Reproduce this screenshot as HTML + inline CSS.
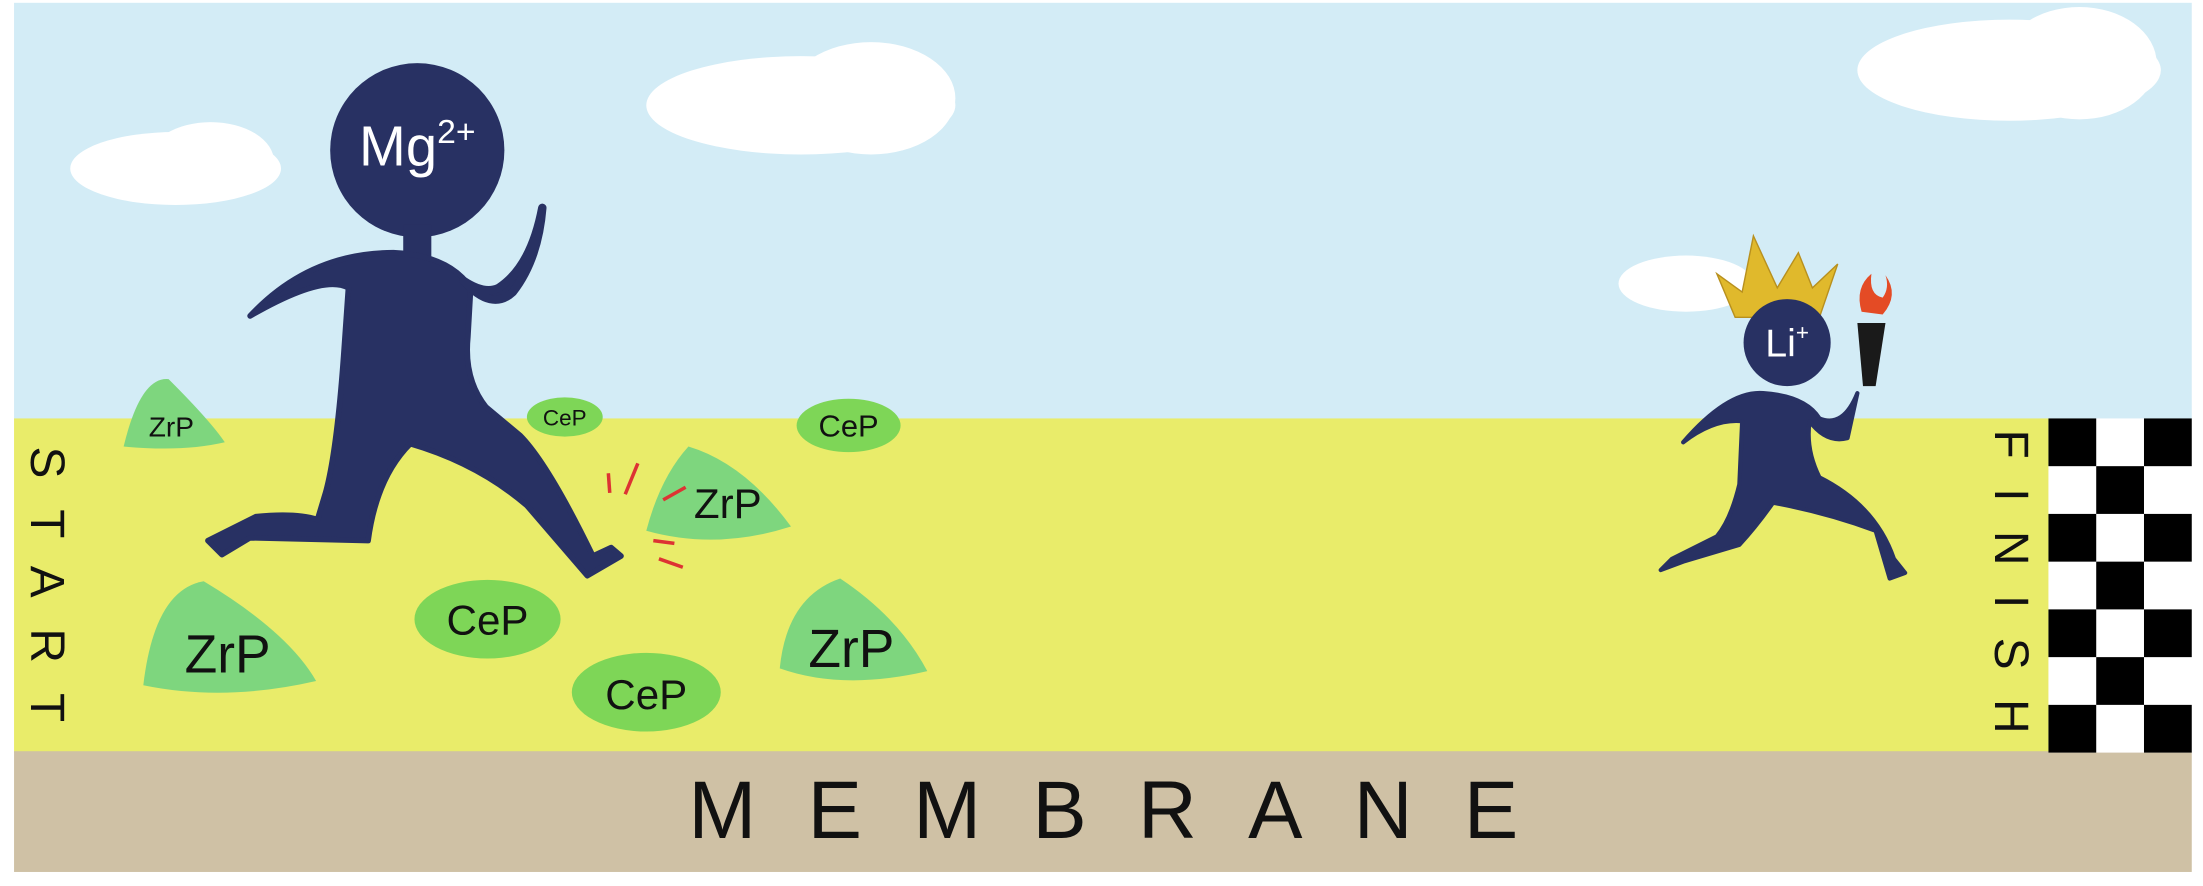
<!DOCTYPE html>
<html><head><meta charset="utf-8"><style>
html,body{margin:0;padding:0;background:#fff;}
svg{display:block;}
text{font-family:"Liberation Sans",sans-serif;}
</style></head><body>
<svg width="2203" height="886" viewBox="0 0 1568 631" preserveAspectRatio="none" xmlns="http://www.w3.org/2000/svg">
<rect width="1568" height="631" fill="#fff"/>
<rect x="10" y="2" width="1550" height="297" fill="#d3ecf6"/>
<rect x="10" y="298" width="1448" height="238" fill="#e9ec6a"/>
<rect x="10" y="535" width="1550" height="86" fill="#cfc1a5"/>
<text x="490" y="597" font-size="58" letter-spacing="36.5" fill="#111">MEMBRANE</text>
<!-- checkered -->
<rect x="1458" y="298" width="102" height="238" fill="#fff"/>
<g fill="#000">
<rect x="1458" y="298" width="34" height="34"/><rect x="1526" y="298" width="34" height="34"/>
<rect x="1492" y="332" width="34" height="34"/>
<rect x="1458" y="366" width="34" height="34"/><rect x="1526" y="366" width="34" height="34"/>
<rect x="1492" y="400" width="34" height="34"/>
<rect x="1458" y="434" width="34" height="34"/><rect x="1526" y="434" width="34" height="34"/>
<rect x="1492" y="468" width="34" height="34"/>
<rect x="1458" y="502" width="34" height="34"/><rect x="1526" y="502" width="34" height="34"/>
</g>
<text transform="translate(1420,306) rotate(90)" font-size="34" letter-spacing="21" fill="#111">FINISH</text>
<text transform="translate(22,318) rotate(90)" font-size="34" letter-spacing="22" fill="#111">START</text>
<!-- clouds -->
<g fill="#fff">
<ellipse cx="125" cy="120" rx="75" ry="26"/><ellipse cx="150" cy="115" rx="45" ry="28"/>
<ellipse cx="570" cy="75" rx="110" ry="35"/><ellipse cx="620" cy="70" rx="60" ry="40"/>
<ellipse cx="1430" cy="50" rx="108" ry="36"/><ellipse cx="1480" cy="45" rx="55" ry="40"/>
<ellipse cx="1200" cy="202" rx="48" ry="20"/>
</g>
<!-- mounds -->
<g fill="#7ed67e">
<path d="M88,318 Q100,268 120,270 Q150,300 160,315 Q130,322 88,318Z"/>
<path d="M102,488 Q110,420 145,414 Q205,450 225,485 Q160,500 102,488Z"/>
<path d="M460,378 Q470,340 490,318 Q530,330 563,375 Q510,392 460,378Z"/>
<path d="M555,476 Q560,425 598,412 Q640,440 660,478 Q600,492 555,476Z"/>
</g>
<g fill="#7ed657">
<ellipse cx="402" cy="297" rx="27" ry="14"/>
<ellipse cx="604" cy="303" rx="37" ry="19"/>
<ellipse cx="347" cy="441" rx="52" ry="28"/>
<ellipse cx="460" cy="493" rx="53" ry="28"/>
</g>
<g font-size="22" fill="#111" text-anchor="middle">
<text x="122" y="311" font-size="20">ZrP</text>
<text x="402" y="303" font-size="16">CeP</text>
<text x="604" y="311" font-size="22">CeP</text>
<text x="518" y="369" font-size="30">ZrP</text>
<text x="347" y="452" font-size="30">CeP</text>
<text x="460" y="505" font-size="30">CeP</text>
<text x="162" y="479" font-size="38">ZrP</text>
<text x="606" y="475" font-size="38">ZrP</text>
</g>
<g stroke="#d33" stroke-width="2.5">
<line x1="433" y1="337" x2="434" y2="351"/><line x1="454" y1="330" x2="445" y2="352"/>
<line x1="472" y1="356" x2="488" y2="347"/><line x1="465" y1="385" x2="480" y2="387"/><line x1="469" y1="398" x2="486" y2="404"/>
</g>
<!-- Mg runner -->
<g fill="#283163" stroke="#283163" stroke-linejoin="round" stroke-linecap="round">
<circle cx="297" cy="107" r="62" stroke="none"/>
<rect x="287" y="160" width="20" height="30" stroke="none"/>
<path d="M245,248 Q240,320 232,350 L226,370 Q210,365 182,368 L148,385 L158,395 L178,383 L262,385 Q268,340 292,316 Q340,330 375,360 L418,410 L442,396 L435,390 L422,396 Q390,330 370,310 L346,290 Q330,270 333,240 L335,205 Q320,182 280,180 Q220,180 178,225 Q230,195 248,205Z" stroke-width="4"/>
<path d="M330,200 Q350,222 365,208 Q383,185 386,148 Q378,190 355,205 Q345,210 330,200Z" stroke-width="6"/>
</g>
<text x="297" y="118" font-size="40" fill="#fff" text-anchor="middle">Mg<tspan font-size="24" dy="-16">2+</tspan></text>
<!-- Li runner -->
<path d="M1222,195 L1235,226 L1295,226 L1308,188 L1290,205 L1280,180 L1265,205 L1248,168 L1240,208Z" fill="#e0b92c" stroke="#b8901e" stroke-width="1"/>
<g fill="#283163" stroke="#283163" stroke-linejoin="round" stroke-linecap="round">
<circle cx="1272" cy="244" r="31" stroke="none"/>
<path d="M1255,280 Q1230,278 1198,315 Q1220,298 1240,300 L1238,345 Q1232,370 1222,382 L1190,398 L1182,406 L1198,400 L1238,388 Q1250,375 1262,358 Q1300,365 1335,378 L1345,412 L1356,408 L1348,398 Q1335,360 1295,340 Q1285,320 1288,300 Q1300,316 1315,312 L1322,280 Q1312,305 1295,298 Q1285,282 1255,280Z" stroke-width="3"/>
</g>
<text x="1272" y="254" font-size="28" fill="#fff" text-anchor="middle">Li<tspan font-size="16" dy="-12">+</tspan></text>
<path d="M1322,230 L1342,230 L1335,275 L1326,275Z" fill="#1a1a1a"/>
<path d="M1325,222 Q1320,205 1332,195 Q1330,210 1340,212 Q1345,205 1342,196 Q1352,210 1340,224Z" fill="#e44b25"/>
</svg>
</body></html>
